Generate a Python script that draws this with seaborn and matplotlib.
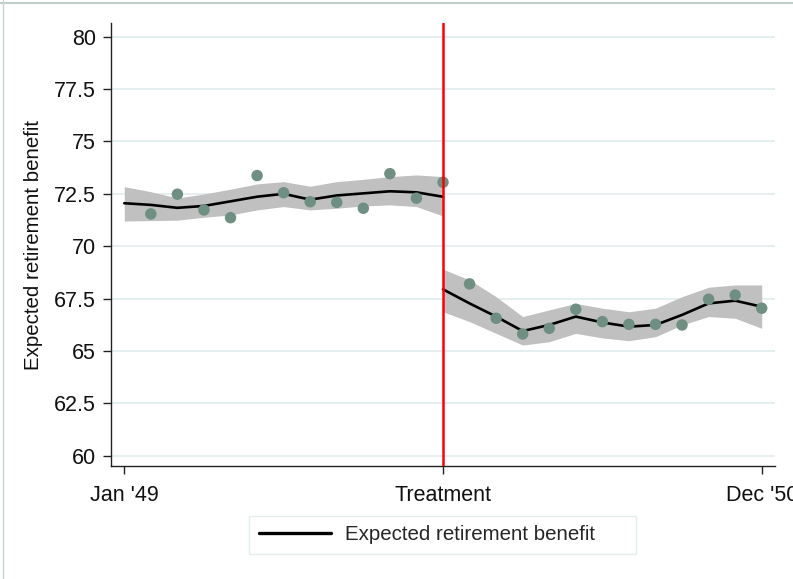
import numpy as np
import pandas as pd
import matplotlib
matplotlib.use("Agg")
import matplotlib.pyplot as plt
from matplotlib.lines import Line2D
from matplotlib.patches import Rectangle
import seaborn as sns

# monthly bins: 0 = Jan '49, 12 = treatment, 24 = Dec '50
months_pre = [1, 2, 3, 4, 5, 6, 7, 8, 9, 10, 11, 12]
benefit_pre = [71.54, 72.48, 71.73, 71.36, 73.37, 72.55, 72.12, 72.09, 71.81, 73.46, 72.29, 73.05]
months_post = [13, 14, 15, 16, 17, 18, 19, 20, 21, 22, 23, 24]
benefit_post = [68.2, 66.56, 65.81, 66.08, 66.99, 66.4, 66.27, 66.27, 66.24, 67.47, 67.67, 67.04]

# local polynomial fit with confidence band
fit_x_pre = [0, 1, 2, 3, 4, 5, 6, 7, 8, 9, 10, 11, 12]
fit_pre = [72.05, 71.97, 71.83, 71.92, 72.14, 72.36, 72.5, 72.22, 72.42, 72.52, 72.62, 72.57, 72.36]
fit_lo_pre = [71.2, 71.22, 71.24, 71.38, 71.49, 71.73, 71.89, 71.73, 71.81, 71.92, 71.97, 71.89, 71.44]
fit_hi_pre = [72.84, 72.6, 72.3, 72.49, 72.72, 72.97, 73.08, 72.86, 73.08, 73.19, 73.32, 73.4, 73.32]

fit_x_post = [12, 13, 14, 15, 16, 17, 18, 19, 20, 21, 22, 23, 24]
fit_post = [67.94, 67.27, 66.64, 65.95, 66.24, 66.64, 66.36, 66.16, 66.24, 66.72, 67.27, 67.4, 67.11]
fit_lo_post = [66.87, 66.4, 65.84, 65.28, 65.44, 65.84, 65.62, 65.49, 65.68, 66.24, 66.64, 66.56, 66.08]
fit_hi_post = [68.9, 68.39, 67.59, 66.64, 66.96, 67.27, 67.04, 66.87, 67.04, 67.59, 68.04, 68.15, 68.15]

x_ticks = [0, 12, 24]
x_labels = ["Jan '49", "Treatment", "Dec '50"]
y_ticks = [60, 62.5, 65, 67.5, 70, 72.5, 75, 77.5, 80]

sns.set_theme(style="white")
plt.rcParams['font.family'] = ['Liberation Sans', 'DejaVu Sans']

fig = plt.figure(figsize=(7.93, 5.79), dpi=100)
W, H = 793, 579
ax = fig.add_axes([111 / W, 1 - 466 / H, (775 - 111) / W, (466 - 23) / H])

band_col = "#c0c0c0"
dot_col = "#6e8f82"

for fx, lo, hi in [(fit_x_pre, fit_lo_pre, fit_hi_pre), (fit_x_post, fit_lo_post, fit_hi_post)]:
    ax.fill_between(fx, lo, hi, color=band_col, linewidth=0, zorder=2)

pre = pd.DataFrame({"month": fit_x_pre, "fit": fit_pre})
post = pd.DataFrame({"month": fit_x_post, "fit": fit_post})
sns.lineplot(data=pre, x="month", y="fit", color="black", linewidth=1.9, ax=ax, zorder=3)
sns.lineplot(data=post, x="month", y="fit", color="black", linewidth=1.9, ax=ax, zorder=3)

dots = pd.DataFrame({"month": months_pre + months_post, "benefit": benefit_pre + benefit_post})
sns.scatterplot(data=dots, x="month", y="benefit", color=dot_col, s=68, edgecolor="none", ax=ax, zorder=4)

ax.axvline(12, color="#ff0000", linewidth=1.8, zorder=5)

ax.set_xlim(-0.5, 24.5)
ax.set_ylim(59.51, 80.65)
ax.set_yticks(y_ticks)
ax.set_yticklabels([f"{v:g}" for v in y_ticks])
ax.set_xticks(x_ticks)
ax.set_xticklabels(x_labels)
ax.yaxis.grid(True, color="#e6eff0", linewidth=1.4)
ax.set_axisbelow(True)

for s in ["top", "right"]:
    ax.spines[s].set_visible(False)
for s in ["left", "bottom"]:
    ax.spines[s].set_color("#222222")
    ax.spines[s].set_linewidth(1.0)

ax.tick_params(axis="both", direction="out", length=6, width=1, color="#222222",
               labelcolor="#111111", left=True, bottom=True)
ax.tick_params(axis="y", pad=5, labelsize=15.5)
ax.tick_params(axis="x", pad=8, labelsize=15.5)
ax.set_xlabel("")
ax.set_ylabel("Expected retirement benefit", fontsize=14.8, color="#111111", labelpad=8)

# legend box (Stata leaves wide right padding)
fig.add_artist(Rectangle((249 / W, 1 - 554 / H), (636 - 249) / W, 38 / H,
                         transform=fig.transFigure, facecolor="white",
                         edgecolor="#e2eded", linewidth=1.0))
handle = Line2D([0], [0], color="black", linewidth=2.4)
fig.legend([handle], ["Expected retirement benefit"], loc="center left",
           bbox_to_anchor=(249 / W, 1 - 535 / H), frameon=False,
           fontsize=14.8, handlelength=3.5, handletextpad=0.65,
           borderpad=0.5, borderaxespad=0)

# thin outer frame at top and left
fig.add_artist(Line2D([0, 1], [1 - 2.5 / H, 1 - 2.5 / H], color="#b4c4c0", linewidth=1.2))
fig.add_artist(Line2D([2.5 / W, 2.5 / W], [0, 1], color="#c8d2d0", linewidth=1.0))

fig.savefig("out.png", dpi=100, facecolor="white")
